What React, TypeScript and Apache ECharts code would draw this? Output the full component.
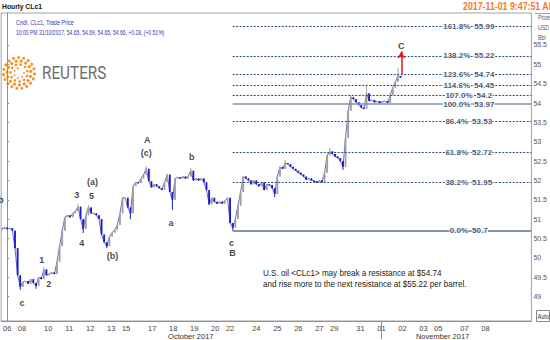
import React, { useEffect, useRef } from 'react';
import * as echarts from 'echarts';

// ---- data ----
// trading-hour axis: hour 0 = 06 Oct 00:00, weekends removed
const dayLabels = ['06', '08', '10', '11', '12', '13', '15', '17', '18', '19', '20', '22', '24', '25', '26', '27', '29', '31', '01', '02', '03', '05', '07', '08'];
const dayHours = [0, 17, 47, 71, 95, 119, 136, 166, 190, 214, 238, 255, 285, 309, 333, 357, 374, 404, 428, 452, 476, 493, 523, 547];
const monthLabels = ['October 2017', 'November 2017'];
const monthHours = [210, 498];
const monthSplitHours = [428];

const yTickValues = [49, 49.5, 50, 50.5, 51, 51.5, 52, 52.5, 53, 53.5, 54, 54.5, 55, 55.5];

const BAR_START_HOUR = -6;
const BAR_STEP_HOURS = 3;
const FIRST_OPEN = 50.72;
const closes = [
  50.75, 50.78, 50.74, 50.77, 50.7, 50.25, 49.55, 49.25, 49.38, 49.4,
  49.33, 49.45, 49.35, 49.27, 49.5, 49.45, 49.7, 49.55, 49.58, 49.62,
  49.58, 49.9, 50.3, 50.7, 51.05, 51.1, 51.05, 51.15, 51.2, 51.32,
  51.0, 50.75, 51.1, 51.3, 51.15, 51.15, 51.1, 51.0, 50.6, 50.4,
  50.3, 50.55, 50.65, 50.72, 50.85, 51.15, 51.55, 51.55, 51.3, 51.15,
  51.85, 51.95, 51.93, 52.05, 52.15, 52.3, 51.98, 51.82, 51.9, 51.85,
  51.8, 51.76, 51.95, 52.15, 51.7, 51.5, 52.05, 52.08, 52.05, 52.1,
  52.05, 52.1, 52.25, 52.0, 52.05, 52.0, 52.05, 51.95, 51.75, 51.38,
  51.55, 51.45, 51.4, 51.45, 51.4, 51.48, 51.55, 50.9, 50.78, 51.0,
  51.35, 51.7, 52.1, 52.05, 52.0, 51.9, 52.0, 51.9, 51.85, 51.95,
  51.75, 51.9, 51.88, 51.8, 51.65, 52.1, 52.35, 52.3, 52.45, 52.42,
  52.35, 52.3, 52.25, 52.2, 52.15, 52.1, 52.02, 52.05, 52.0, 51.98,
  51.95, 52.0, 51.95, 52.2, 52.65, 52.75, 52.68, 52.62, 52.58, 52.5,
  52.35, 53.1, 53.8, 54.15, 54.1, 54.02, 53.95, 53.88, 53.85, 54.25,
  54.05, 54.08, 54.02, 54.05, 54.0, 54.03, 54.05, 54.0, 54.2, 54.4,
  54.55, 54.7, 54.66,
];
const spikeBars = [7, 13, 16, 29, 31, 33, 40, 49, 55, 65, 72, 88, 104, 108, 125, 130, 133, 139, 151];
const spikeLows = [49.17, 49.2, null, null, 50.64, null, 50.25, 51.0, null, 51.24, null, 50.7, 51.57, null, null, 52.27, null, null, null];
const spikeHighs = [null, null, 49.76, 51.39, null, 51.36, null, null, 52.37, null, 52.32, null, null, 52.53, 52.84, null, 54.2, 54.47, 54.9];

const fibPct = ['161.8%', '138.2%', '123.6%', '114.6%', '107.0%', '100.0%', '86.4%', '61.8%', '38.2%', '0.0%'];
const fibVal = [55.99, 55.22, 54.74, 54.45, 54.2, 53.97, 53.53, 52.72, 51.95, 50.7];
const fibSolid = [false, false, false, false, false, true, false, false, false, true];
const FIB_START_HOUR = 258;

const waveText = ['A', '(c)', 'b', '(a)', '3', '5', '4', 'a', '(b)', '1', '2', 'c', 'B', 'c', 'C', 'b'];
const waveHour = [160.1, 159.0, 211.2, 97.7, 79.5, 96.5, 85.2, 187.3, 120.4, 39.7, 47.7, 256.6, 257.7, 17.0, 450.7, -6.9];
const waveValue = [53.04, 52.71, 52.61, 51.96, 51.62, 51.6, 50.38, 50.9, 50.05, 49.94, 49.32, 50.38, 50.12, 48.83, 55.47, 51.49];

const arrowHour = 450.7;
const arrowFrom = 54.75;
const arrowTo = 55.33;
const lastPrice = 54.66;

const X_MIN = -6.8;
const X_MAX = 599.5;
const Y_MIN = 48.367;
const Y_MAX = 56.326;

const SANS = "'Liberation Sans', Arial, sans-serif";
const UP = '#a0a0a0';
const DOWN = '#1c1cc8';
const FIB_COLOR = '#2e4c74';
const FIB_TEXT = '#12305c';

function buildOption() {
  const candleData = closes.map((c, i) => {
    const o = i === 0 ? FIRST_OPEN : closes[i - 1];
    let lo = Math.min(o, c);
    let hi = Math.max(o, c);
    const k = spikeBars.indexOf(i);
    if (k >= 0) {
      const sl = spikeLows[k];
      const sh = spikeHighs[k];
      if (sl != null) lo = Math.min(lo, sl);
      if (sh != null) hi = Math.max(hi, sh);
    }
    return [BAR_START_HOUR + i * BAR_STEP_HOURS, o, c, lo, hi];
  });
  const closeLine = closes.map((c, i) => [BAR_START_HOUR + i * BAR_STEP_HOURS, c]);

  const fibLines = fibVal.map((v, i) => [
    {
      coord: [FIB_START_HOUR, v],
      lineStyle: fibSolid[i]
        ? { color: '#8595a8', width: i === fibVal.length - 1 ? 2 : 1.5, type: 'solid' }
        : { color: FIB_COLOR, width: 1, type: [2, 1.5] },
    },
    { coord: [X_MAX, v] },
  ]);

  const labelHour = 527.9;
  const fibLabelData = fibVal.map((v, i) => [labelHour, v, fibPct[i]]);

  const dots: any[] = [];
  const rings = [
    { r: 5, n: 7, s: 0.9 },
    { r: 8.5, n: 11, s: 1.3 },
    { r: 12, n: 15, s: 1.6 },
    { r: 15.5, n: 19, s: 1.5 },
  ];
  rings.forEach((ring, ri) => {
    for (let k = 0; k < ring.n; k++) {
      const a = (k / ring.n) * Math.PI * 2 + ri * 0.35;
      dots.push({
        type: 'circle',
        shape: { cx: 19 + ring.r * Math.cos(a), cy: 73 + ring.r * Math.sin(a), r: ring.s },
        style: { fill: '#f39222' },
        silent: true,
      });
    }
  });

  const narrowText = (x: number, y: number, text: string, fontSize: number, fill: string, sx: number, extra: any = {}) => ({
    type: 'text',
    x,
    y,
    scaleX: sx,
    silent: true,
    style: { text, fontSize, fill, fontFamily: SANS, verticalAlign: 'middle', ...extra },
  });

  return {
    animation: false,
    backgroundColor: '#ffffff',
    grid: { left: 1, right: 15, top: 13, bottom: 19, show: true, borderColor: '#a0a0a0', borderWidth: 1, backgroundColor: '#fff' },
    xAxis: [
      {
        type: 'value',
        min: X_MIN,
        max: X_MAX,
        position: 'bottom',
        splitLine: { show: false },
        axisLine: { show: true, lineStyle: { color: '#909090' } },
        axisTick: { show: false },
        axisLabel: {
          customValues: dayHours,
          formatter: (v: number) => dayLabels[dayHours.indexOf(v)] ?? '',
          fontSize: 7.5,
          color: '#444',
          fontFamily: SANS,
          margin: 3,
        },
      },
      {
        type: 'value',
        min: X_MIN,
        max: X_MAX,
        position: 'bottom',
        splitLine: { show: false },
        axisLine: { show: false },
        axisTick: { show: true, customValues: monthSplitHours, length: 18, lineStyle: { color: '#909090' } },
        axisLabel: {
          customValues: monthHours,
          formatter: (v: number) => monthLabels[monthHours.indexOf(v)] ?? '',
          fontSize: 7.5,
          color: '#333',
          fontFamily: SANS,
          margin: 11,
        },
      },
    ],
    yAxis: {
      type: 'value',
      position: 'right',
      min: Y_MIN,
      max: Y_MAX,
      splitLine: { show: false },
      axisLine: { show: true, lineStyle: { color: '#909090' } },
      axisTick: { show: true, customValues: yTickValues, length: 2, lineStyle: { color: '#909090' } },
      axisLabel: {
        customValues: yTickValues,
        formatter: (v: number) => String(v),
        fontSize: 7,
        color: '#555',
        fontFamily: SANS,
        margin: 2,
      },
    },
    series: [
      {
        type: 'line',
        name: 'fibLines',
        z: 1,
        silent: true,
        symbol: 'none',
        data: [],
        markLine: {
          silent: true,
          symbol: ['none', 'none'],
          label: { show: false },
          data: fibLines,
        },
      },
      {
        type: 'line',
        name: 'close',
        z: 3,
        silent: true,
        symbol: 'none',
        data: closeLine,
        lineStyle: { color: '#6c6cc0', width: 1 },
      },
      {
        type: 'custom',
        name: 'CLc1',
        z: 4,
        dimensions: ['t', 'open', 'close', 'low', 'high'],
        encode: { x: 't', y: ['open', 'close', 'low', 'high'] },
        data: candleData,
        renderItem: (params: any, api: any) => {
          const t = api.value(0);
          const o = api.value(1);
          const c = api.value(2);
          const lo = api.value(3);
          const hi = api.value(4);
          const pO = api.coord([t, o]);
          const pC = api.coord([t, c]);
          const pL = api.coord([t, lo]);
          const pH = api.coord([t, hi]);
          const color = c >= o ? UP : DOWN;
          const top = Math.min(pO[1], pC[1]);
          const h = Math.max(1, Math.abs(pO[1] - pC[1]));
          return {
            type: 'group',
            children: [
              { type: 'line', shape: { x1: pL[0], y1: pL[1], x2: pH[0], y2: pH[1] }, style: { stroke: color, lineWidth: 1 } },
              { type: 'rect', shape: { x: pO[0] - 0.9, y: top, width: 1.8, height: h }, style: { fill: color } },
            ],
          };
        },
        markLine: {
          silent: true,
          symbol: ['none', 'none'],
          data: [
            {
              yAxis: lastPrice,
              lineStyle: { opacity: 0 },
              label: {
                show: true,
                position: 'end',
                distance: -1,
                formatter: String(lastPrice),
                backgroundColor: '#1010d0',
                color: '#fff',
                fontSize: 6.5,
                fontFamily: SANS,
                padding: [2, 1, 1, 1],
              },
            },
          ],
        },
      },
      {
        type: 'scatter',
        name: 'fib',
        symbolSize: 0,
        silent: true,
        z: 6,
        data: fibLabelData,
        label: {
          show: true,
          position: 'inside',
          formatter: (p: any) => `{a|${p.data[2]}}{g| }{b|${p.data[1]}}`,
          rich: {
            a: { backgroundColor: '#fff', color: FIB_TEXT, fontSize: 8, fontWeight: 'bold', fontFamily: SANS, padding: [0, 0.5] },
            g: { width: 3, fontSize: 8 },
            b: { backgroundColor: '#fff', color: FIB_TEXT, fontSize: 8, fontWeight: 'bold', fontFamily: SANS, padding: [0, 0.5] },
          },
        },
      },
      {
        type: 'scatter',
        name: 'waves',
        symbolSize: 0,
        silent: true,
        z: 5,
        data: waveText.map((t, i) => [waveHour[i], waveValue[i], t]),
        label: {
          show: true,
          position: 'inside',
          formatter: (p: any) => p.data[2],
          fontSize: 9,
          fontWeight: 'bold',
          color: '#111',
          fontFamily: SANS,
        },
        markLine: {
          silent: true,
          symbol: ['none', 'arrow'],
          symbolSize: [6, 7],
          label: { show: false },
          lineStyle: { color: '#e01818', width: 1.5, type: 'solid' },
          data: [[{ coord: [arrowHour, arrowFrom] }, { coord: [arrowHour, arrowTo] }]],
        },
      },
    ],
    graphic: [
      { type: 'line', shape: { x1: 535, y1: 13.5, x2: 550, y2: 13.5 }, style: { stroke: '#a0a0a0', lineWidth: 1 }, silent: true },
      narrowText(2, 6, 'Hourly CLc1', 8, '#111', 0.85, { fontWeight: 'bold' }),
      narrowText(16, 22, 'Cndl, CLc1, Trade Price', 7, '#3535b0', 0.78),
      narrowText(16, 32, '10:00 PM 31/10/2017, 54.65, 54.69, 54.65, 54.66, +0.28, (+0.51%)', 7, '#3535b0', 0.72),
      narrowText(463, 6, '2017-11-01 9:47:51 AM', 11, '#f07a2e', 0.8, { fontWeight: 'bold' }),
      narrowText(538, 17, 'Price', 7, '#555', 0.75),
      narrowText(538, 27, 'USD', 7, '#555', 0.75),
      narrowText(538, 37, 'Bbl', 7, '#555', 0.75),
      { type: 'rect', shape: { x: 536.5, y: 310.5, width: 13, height: 11 }, style: { fill: '#fff', stroke: '#888', lineWidth: 1 }, silent: true },
      narrowText(537.5, 316, 'Auto', 7, '#333', 0.8),
      ...dots,
      { type: 'circle', shape: { cx: 19, cy: 73, r: 2.5 }, style: { fill: '#fff' }, silent: true },
      { type: 'text', x: 42, y: 73, scaleX: 0.85, silent: true, style: { text: 'REUTERS', fontSize: 18, fill: '#6d6e70', fontFamily: "'Roboto', 'Liberation Sans', sans-serif", verticalAlign: 'middle' } },
      narrowText(263, 273, 'U.S. oil <CLc1> may break a resistance at $54.74', 9, '#222', 0.9),
      narrowText(263, 284, 'and rise more to the next resistance at $55.22 per barrel.', 9, '#222', 0.9),
    ],
  };
}

export default function App() {
  const ref = useRef<HTMLDivElement>(null);
  useEffect(() => {
    document.body.style.margin = '0';
    if (!ref.current) return;
    const chart = echarts.init(ref.current, null, { renderer: 'svg' });
    chart.setOption(buildOption() as any);
    return () => chart.dispose();
  }, []);
  return <div ref={ref} style={{ width: 550, height: 340 }} />;
}
